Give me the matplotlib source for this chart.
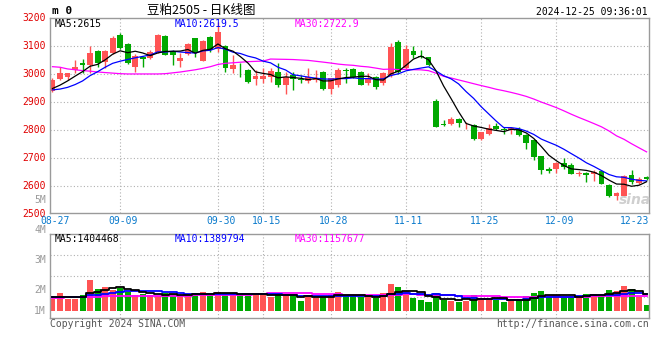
import numpy as np
import pandas as pd
import matplotlib
matplotlib.use("Agg")
import matplotlib.pyplot as plt
from matplotlib.transforms import blended_transform_factory

# ---------------- data ----------------
dates = ["08-27", "08-28", "08-29", "08-30",
         "09-02", "09-03", "09-04", "09-05", "09-06",
         "09-09", "09-10", "09-11", "09-12", "09-13",
         "09-18", "09-19", "09-20",
         "09-23", "09-24", "09-25", "09-26", "09-27", "09-30",
         "10-08", "10-09", "10-10", "10-11",
         "10-14", "10-15", "10-16", "10-17", "10-18",
         "10-21", "10-22", "10-23", "10-24", "10-25",
         "10-28", "10-29", "10-30", "10-31", "11-01",
         "11-04", "11-05", "11-06", "11-07", "11-08",
         "11-11", "11-12", "11-13", "11-14", "11-15",
         "11-18", "11-19", "11-20", "11-21", "11-22",
         "11-25", "11-26", "11-27", "11-28", "11-29",
         "12-02", "12-03", "12-04", "12-05", "12-06",
         "12-09", "12-10", "12-11", "12-12", "12-13",
         "12-16", "12-17", "12-18", "12-19", "12-20",
         "12-23", "12-24", "12-25"]

open_ = [2940, 2983, 2988, 3014, 3040, 3032, 3083, 3044, 3074, 3138,
         3107, 3024, 3062, 3056, 3080, 3136, 3080, 3048, 3070, 3128,
         3047, 3131, 3088, 3100, 3019, 3022, 3014, 2981, 2981, 2990,
         3008, 2960, 2996, 2981, 2975, 2979, 3008, 2948, 2960, 3014,
         3017, 3008, 2969, 2988, 2966, 2996, 3116, 3020, 3082, 3062,
         3060, 2903, 2822, 2821, 2839, 2820, 2819, 2768, 2787, 2813,
         2804, 2799, 2805, 2781, 2763, 2706, 2659, 2662, 2683, 2674,
         2643, 2646, 2643, 2652, 2602, 2563, 2563, 2638, 2610, 2632]
high = [2984, 3026, 3005, 3050, 3052, 3100, 3086, 3086, 3134, 3145,
        3110, 3070, 3065, 3086, 3142, 3140, 3085, 3074, 3110, 3130,
        3122, 3135, 3184, 3105, 3068, 3038, 3018, 3014, 3020, 3020,
        3038, 3008, 3008, 2996, 3020, 3014, 3010, 2984, 3020, 3020,
        3020, 3010, 3002, 2993, 3008, 3112, 3120, 3104, 3100, 3086,
        3062, 2910, 2835, 2845, 2841, 2829, 2821, 2794, 2820, 2823,
        2811, 2809, 2809, 2784, 2766, 2708, 2668, 2686, 2698, 2680,
        2653, 2650, 2656, 2656, 2606, 2578, 2638, 2658, 2632, 2634]
low = [2936, 2980, 2978, 3002, 3002, 3002, 3024, 3022, 3070, 3088,
       3036, 3008, 3026, 3054, 3075, 3066, 3032, 3026, 3068, 3062,
       3045, 3080, 3080, 3008, 3005, 2990, 2966, 2960, 2966, 2973,
       2954, 2930, 2942, 2966, 2966, 2972, 2942, 2928, 2955, 2966,
       2984, 2960, 2960, 2948, 2960, 2990, 3000, 3018, 3056, 3058,
       3028, 2809, 2813, 2816, 2811, 2805, 2763, 2763, 2781, 2799,
       2787, 2787, 2778, 2733, 2694, 2641, 2646, 2646, 2662, 2641,
       2634, 2614, 2618, 2605, 2560, 2548, 2560, 2608, 2605, 2622]
close = [2978, 3005, 3002, 3026, 3031, 3074, 3038, 3083, 3127, 3092,
         3040, 3064, 3052, 3079, 3140, 3068, 3066, 3056, 3107, 3074,
         3119, 3086, 3150, 3020, 3032, 3020, 2972, 2993, 2993, 3012,
         2960, 2990, 2981, 2979, 2988, 2981, 2945, 2984, 3014, 3012,
         2988, 2960, 2984, 2954, 3005, 3098, 3008, 3088, 3066, 3060,
         3032, 2811, 2818, 2839, 2825, 2822, 2766, 2792, 2808, 2803,
         2800, 2808, 2781, 2754, 2704, 2656, 2653, 2682, 2668, 2644,
         2644, 2638, 2650, 2608, 2563, 2574, 2634, 2614, 2626, 2626]

# volume, millions of lots
volume_m = [0.98, 1.44, 0.98, 0.98, 1.28, 2.48, 1.76, 1.92, 1.68, 1.84,
            1.52, 1.28, 1.36, 1.28, 1.20, 1.44, 1.36, 1.20, 1.20, 1.44,
            1.52, 1.44, 1.52, 1.36, 1.36, 1.28, 1.20, 1.44, 1.36, 1.12,
            1.36, 1.20, 1.28, 0.80, 1.28, 1.04, 1.20, 1.28, 1.52, 1.20,
            1.20, 1.12, 1.12, 1.04, 1.44, 2.16, 1.92, 1.60, 1.04, 0.88,
            0.72, 1.44, 0.88, 0.80, 0.72, 0.80, 1.28, 1.07, 1.07, 0.91,
            0.72, 0.80, 0.96, 1.20, 1.44, 1.60, 1.12, 1.12, 1.20, 1.20,
            1.12, 1.36, 1.36, 1.28, 1.68, 1.60, 2.00, 1.76, 1.12, 0.48]

# moving averages before enough history is visible
ma5_head = [2948, 2960, 2975, 2992]
ma10_head = [2943, 2946, 2952, 2962, 2975, 2994, 3008, 3024, 3038]
ma30_head = [3026, 3024, 3018, 3015, 3012, 3010, 3007, 3005, 3003, 3001,
             3000, 3000, 3000, 3000, 3000, 3001, 3004, 3007, 3011, 3015,
             3020, 3026, 3034, 3038, 3040, 3042, 3044, 3045, 3046]
vma5_head = [1.15, 1.15, 1.15, 1.15]
vma10_head = [1.10, 1.10, 1.10, 1.10, 1.15, 1.25, 1.30, 1.35, 1.42]
vma30_head = [1.07, 1.08, 1.09, 1.10, 1.12, 1.14, 1.16, 1.18, 1.19, 1.20,
              1.20, 1.21, 1.21, 1.22, 1.22, 1.23, 1.23, 1.24, 1.24, 1.25,
              1.25, 1.26, 1.27, 1.28, 1.29, 1.30, 1.32, 1.34, 1.36]

tick_labels = ["08-27", "09-09", "09-30", "10-15", "10-28",
               "11-11", "11-25", "12-09", "12-23"]
grid_dates = ["09-09", "09-30", "10-15", "10-28", "11-11", "11-25", "12-09"]
price_ticks = [3200, 3100, 3000, 2900, 2800, 2700, 2600, 2500]
vol_axis_labels = ["5M", "4M", "3M", "2M", "1M"]

title = "豆粕2505 - 日K线图"
stamp = "2024-12-25 09:36:01"
ma_text = ["MA5:2615", "MA10:2619.5", "MA30:2722.9"]
vma_text = ["MA5:1404468", "MA10:1389794", "MA30:1157677"]

# ---------------- derived ----------------
def ma(values, n, head):
    s = pd.Series(values, dtype=float).rolling(n).mean().to_numpy()
    s[:len(head)] = head
    return s

O = np.array(open_, float); Hh = np.array(high, float)
L = np.array(low, float); C = np.array(close, float)
V = np.array(volume_m, float)
x = np.arange(len(dates))
ma5, ma10, ma30 = ma(close, 5, ma5_head), ma(close, 10, ma10_head), ma(close, 30, ma30_head)
vma5, vma10, vma30 = ma(volume_m, 5, vma5_head), ma(volume_m, 10, vma10_head), ma(volume_m, 30, vma30_head)

RED = "#ff5454"
GREEN = "#00a800"
FRAME = "#9a9a9a"
GRID = "#b0b0b0"
MONO = "DejaVu Sans Mono"

W, Hpx = 660, 360
fig = plt.figure(figsize=(W / 100, Hpx / 100), dpi=100)
fig.patch.set_facecolor("white")


def px_axes(l, t, r, b):
    return fig.add_axes([l / W, 1 - b / Hpx, (r - l) / W, (b - t) / Hpx])


def ftext(xp, yp, s, **kw):
    kw.setdefault("family", MONO)
    kw.setdefault("fontsize", 7)
    kw.setdefault("va", "center")
    return fig.text(xp / W, 1 - yp / Hpx, s, **kw)


ax = px_axes(50, 18, 649, 213)
axv = px_axes(50, 234, 649, 318)
xlim = (-0.33, 79.32)

for a in (ax, axv):
    a.set_xlim(*xlim)
    a.set_xticks([]); a.set_yticks([])
    for sp in a.spines.values():
        sp.set_color(FRAME)
        sp.set_linewidth(1.0)
    for d in grid_dates:
        a.axvline(dates.index(d), color=GRID, lw=0.8, ls=(0, (1, 2)), zorder=0)

ax.set_ylim(2503, 3200)
axv.set_ylim(-0.56, 6.16)

for p in price_ticks[1:-1]:
    ax.axhline(p, color=GRID, lw=0.8, ls=(0, (1, 2)), zorder=0)
for f in (0.25, 0.5, 0.75):
    axv.plot([0, 1], [f, f], transform=axv.transAxes, color=GRID, lw=0.8,
             ls=(0, (1, 2)), zorder=0)

# candles
up = C >= O
cols = np.where(up, RED, GREEN)
ax.vlines(x, L, Hh, colors=cols, lw=1.0, zorder=2)
body = np.abs(C - O)
bh = np.maximum(body, 3.0)
bottom = np.minimum(O, C) - (bh - body) / 2
ax.bar(x, bh, bottom=bottom, width=0.78, color=cols, lw=0, zorder=2)

ax.plot(x, ma30, color="#ff00ff", lw=0.9, zorder=3)
ax.plot(x, ma10, color="#0000ff", lw=0.9, zorder=3)
ax.plot(x, ma5, color="black", lw=0.9, zorder=3)

# volume
axv.bar(x, V, width=0.8, color=cols, lw=0, zorder=2)
axv.plot(x, vma30, color="#ff00ff", lw=1.3, drawstyle="steps-mid", zorder=3)
axv.plot(x, vma10, color="#0000ff", lw=1.3, drawstyle="steps-mid", zorder=3)
axv.plot(x, vma5, color="black", lw=1.3, drawstyle="steps-mid", zorder=3)

# price labels
tr = blended_transform_factory(ax.transAxes, ax.transData)
for p in price_ticks:
    ax.text(-4 / 599, p, str(p), transform=tr, ha="right", va="center",
            color="#e00000", family=MONO, fontsize=7, clip_on=False)

# date labels
trx = blended_transform_factory(ax.transData, fig.transFigure)
for d in tick_labels:
    ax.text(dates.index(d) + 0.4, 1 - 221.5 / Hpx, d, transform=trx, ha="center",
            va="center", color="#0a7acc", family=MONO, fontsize=7, clip_on=False)

# volume axis labels
for lab, yp in zip(vol_axis_labels, [200, 230, 260, 290, 311]):
    ftext(46, yp, lab, ha="right", color="#9a9a9a")

# headers
ftext(52, 11, "m 0", ha="left", fontweight="bold", fontsize=8)
ftext(201, 10.5, title, ha="center", family=["Noto Sans CJK SC", "DejaVu Sans"],
      fontsize=9)
ftext(648, 12, stamp, ha="right", color="black")

for s, xp, c in zip(ma_text, [55, 175, 295], ["black", "#0000ff", "#ff00ff"]):
    ftext(xp, 24, s, ha="left", color=c)
for s, xp, c in zip(vma_text, [55, 175, 295], ["black", "#0000ff", "#ff00ff"]):
    ftext(xp, 238.5, s, ha="left", color=c)

ftext(50, 324, "Copyright 2024 SINA.COM", ha="left", color="#555555")
ftext(649, 324, "http://finance.sina.com.cn", ha="right", color="#555555")

# watermark
ftext(635, 200, "sina", ha="center", color="#cfcfcf", family="DejaVu Sans",
      fontsize=10, fontweight="bold", style="italic")

fig.savefig("out.png", dpi=100, facecolor="white")
